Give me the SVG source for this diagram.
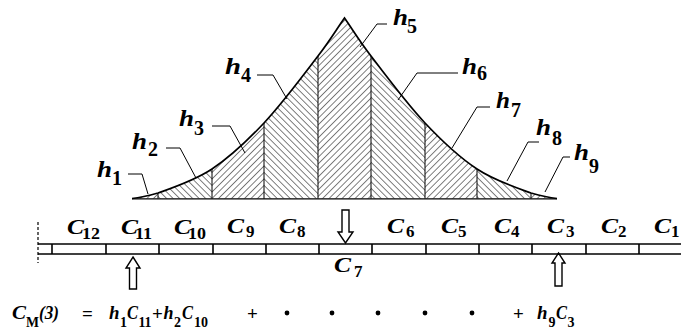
<svg xmlns="http://www.w3.org/2000/svg" width="681" height="332" viewBox="0 0 681 332">
<style>
.h{font-family:"Liberation Serif",serif;font-weight:bold;font-style:italic;font-size:23px;fill:#000}
.hs{font-family:"Liberation Serif",serif;font-weight:bold;font-size:20px;fill:#000}
.c{font-family:"Liberation Serif",serif;font-weight:bold;font-style:italic;font-size:20px;fill:#000}
.cs{font-family:"Liberation Serif",serif;font-weight:bold;font-size:17px;fill:#000}
.f{font-family:"Liberation Serif",serif;font-weight:bold;font-style:italic;font-size:19px;fill:#000}
.fs{font-family:"Liberation Serif",serif;font-weight:bold;font-size:14px;fill:#000}
.op{font-family:"Liberation Serif",serif;font-weight:bold;font-size:19px;fill:#000}
.ld{fill:none;stroke:#000;stroke-width:1}
.dv{stroke:#000;stroke-width:1}
.sl{stroke:#000;stroke-width:1.6}
.ar{fill:#fff;stroke:#000;stroke-width:1.4}
</style>
<defs>
<pattern id="pA" patternUnits="userSpaceOnUse" width="4.6" height="10" patternTransform="rotate(45)">
<line x1="0" y1="0" x2="0" y2="10" stroke="#000" stroke-width="1"/>
</pattern>
<pattern id="pB" patternUnits="userSpaceOnUse" width="4.6" height="10" patternTransform="rotate(-45)">
<line x1="0" y1="0" x2="0" y2="10" stroke="#000" stroke-width="1"/>
</pattern>
<clipPath id="area">
<path d="M132,198.5 C140,197.5 147,196 158,193 C171.3,188.2 194.3,180.7 212,169 C229.7,157.3 246.3,141.8 264,123 C281.7,104.2 304.7,73.5 318,56 C331.3,38.5 336,30 344.5,18 C353,30 357.7,38.5 371,56 C384.3,73.5 407.3,104.2 425,123 C442.7,141.8 459.3,157.3 477,169 C494.7,180.7 517.7,188.2 531,193 C542,196 549,197.5 557,198.5 Z"/>
</clipPath>
</defs>

<g id="weight-curve">
<g clip-path="url(#area)">
<rect x="132" y="0" width="26" height="199" fill="url(#pA)"/>
<rect x="158" y="0" width="54" height="199" fill="url(#pB)"/>
<rect x="212" y="0" width="52" height="199" fill="url(#pA)"/>
<rect x="264" y="0" width="54" height="199" fill="url(#pB)"/>
<rect x="318" y="0" width="53" height="199" fill="url(#pA)"/>
<rect x="371" y="0" width="54" height="199" fill="url(#pB)"/>
<rect x="425" y="0" width="52" height="199" fill="url(#pA)"/>
<rect x="477" y="0" width="54" height="199" fill="url(#pB)"/>
<rect x="531" y="0" width="26" height="199" fill="url(#pA)"/>
<g class="dv">
<line x1="158" y1="0" x2="158" y2="199"/><line x1="212" y1="0" x2="212" y2="199"/>
<line x1="264" y1="0" x2="264" y2="199"/><line x1="318" y1="0" x2="318" y2="199"/>
<line x1="371" y1="0" x2="371" y2="199"/><line x1="425" y1="0" x2="425" y2="199"/>
<line x1="477" y1="0" x2="477" y2="199"/><line x1="531" y1="0" x2="531" y2="199"/>
</g>
</g>
<path d="M132,198.5 C140,197.5 147,196 158,193 C171.3,188.2 194.3,180.7 212,169 C229.7,157.3 246.3,141.8 264,123 C281.7,104.2 304.7,73.5 318,56 C331.3,38.5 336,30 344.5,18 C353,30 357.7,38.5 371,56 C384.3,73.5 407.3,104.2 425,123 C442.7,141.8 459.3,157.3 477,169 C494.7,180.7 517.7,188.2 531,193 C542,196 549,197.5 557,198.5" fill="none" stroke="#000" stroke-width="1.7"/>
<line x1="132" y1="198.8" x2="557" y2="198.8" stroke="#000" stroke-width="1.2"/>
</g>

<g id="h-labels">
<g id="h1"><text class="h" x="97" y="177" textLength="15" lengthAdjust="spacingAndGlyphs">h</text><text class="hs" x="112" y="185">1</text></g>
<g id="h2"><text class="h" x="132" y="149" textLength="15" lengthAdjust="spacingAndGlyphs">h</text><text class="hs" x="148" y="156">2</text></g>
<g id="h3"><text class="h" x="179" y="126" textLength="15" lengthAdjust="spacingAndGlyphs">h</text><text class="hs" x="194" y="135">3</text></g>
<g id="h4"><text class="h" x="225" y="74" textLength="16" lengthAdjust="spacingAndGlyphs">h</text><text class="hs" x="241" y="82">4</text></g>
<g id="h5"><text class="h" x="393" y="25" textLength="15" lengthAdjust="spacingAndGlyphs">h</text><text class="hs" x="407" y="33">5</text></g>
<g id="h6"><text class="h" x="462" y="74" textLength="15" lengthAdjust="spacingAndGlyphs">h</text><text class="hs" x="477" y="80">6</text></g>
<g id="h7"><text class="h" x="496" y="108" textLength="14" lengthAdjust="spacingAndGlyphs">h</text><text class="hs" x="511" y="117">7</text></g>
<g id="h8"><text class="h" x="536" y="135" textLength="15" lengthAdjust="spacingAndGlyphs">h</text><text class="hs" x="552" y="145">8</text></g>
<g id="h9"><text class="h" x="574" y="160" textLength="15" lengthAdjust="spacingAndGlyphs">h</text><text class="hs" x="589" y="173">9</text></g>
</g>

<g id="connectors">
<polyline class="ld" points="128,174 142,174 148,194"/>
<polyline class="ld" points="166,148 180,148 196,178"/>
<polyline class="ld" points="212,126 230,126 245,153"/>
<polyline class="ld" points="257,75 273,75 287,99"/>
<polyline class="ld" points="387,24 377,24 360,47"/>
<polyline class="ld" points="458,73 417,73 398,100"/>
<polyline class="ld" points="490,107 477,107 452,148"/>
<polyline class="ld" points="539,142 528,142 507,181"/>
<polyline class="ld" points="570,157 563,157 545,192"/>
</g>

<g id="strip">
<line x1="38" y1="222" x2="38" y2="263" stroke="#000" stroke-width="1.2" stroke-dasharray="3 2"/>
<line class="sl" x1="38" y1="244" x2="681" y2="244"/>
<line class="sl" x1="38" y1="254" x2="681" y2="254"/>
<g class="sl">
<line x1="52" y1="244" x2="52" y2="254"/><line x1="106" y1="244" x2="106" y2="254"/>
<line x1="159" y1="244" x2="159" y2="254"/><line x1="213" y1="244" x2="213" y2="254"/>
<line x1="266" y1="244" x2="266" y2="254"/><line x1="319" y1="244" x2="319" y2="254"/>
<line x1="372" y1="244" x2="372" y2="254"/><line x1="426" y1="244" x2="426" y2="254"/>
<line x1="479" y1="244" x2="479" y2="254"/><line x1="532" y1="244" x2="532" y2="254"/>
<line x1="586" y1="244" x2="586" y2="254"/><line x1="639" y1="244" x2="639" y2="254"/>
</g>
</g>

<g id="c-labels">
<g id="C12"><text class="c" x="67" y="234" textLength="17" lengthAdjust="spacingAndGlyphs">C</text><text class="cs" x="82" y="239" textLength="18" lengthAdjust="spacingAndGlyphs">12</text></g>
<g id="C11"><text class="c" x="121" y="234" textLength="17" lengthAdjust="spacingAndGlyphs">C</text><text class="cs" x="135" y="239" textLength="17" lengthAdjust="spacingAndGlyphs">11</text></g>
<g id="C10"><text class="c" x="174" y="234" textLength="17" lengthAdjust="spacingAndGlyphs">C</text><text class="cs" x="188" y="239" textLength="18" lengthAdjust="spacingAndGlyphs">10</text></g>
<g id="C9"><text class="c" x="227" y="233" textLength="17" lengthAdjust="spacingAndGlyphs">C</text><text class="cs" x="246" y="237">9</text></g>
<g id="C8"><text class="c" x="279" y="233" textLength="17" lengthAdjust="spacingAndGlyphs">C</text><text class="cs" x="297" y="237">8</text></g>
<g id="C7"><text class="c" x="334" y="272" textLength="17" lengthAdjust="spacingAndGlyphs">C</text><text class="cs" x="354" y="277">7</text></g>
<g id="C6"><text class="c" x="387" y="233" textLength="17" lengthAdjust="spacingAndGlyphs">C</text><text class="cs" x="406" y="237">6</text></g>
<g id="C5"><text class="c" x="441" y="233" textLength="17" lengthAdjust="spacingAndGlyphs">C</text><text class="cs" x="458" y="237">5</text></g>
<g id="C4"><text class="c" x="494" y="233" textLength="17" lengthAdjust="spacingAndGlyphs">C</text><text class="cs" x="511" y="237">4</text></g>
<g id="C3"><text class="c" x="547" y="233" textLength="17" lengthAdjust="spacingAndGlyphs">C</text><text class="cs" x="566" y="237">3</text></g>
<g id="C2"><text class="c" x="601" y="233" textLength="17" lengthAdjust="spacingAndGlyphs">C</text><text class="cs" x="618" y="237">2</text></g>
<g id="C1"><text class="c" x="654" y="233" textLength="17" lengthAdjust="spacingAndGlyphs">C</text><text class="cs" x="671" y="237">1</text></g>
</g>

<g id="arrows">
<path id="arrow-down-C7" class="ar" d="M342,210 H349 V232 H353 L345.5,243 L338,232 H342 Z"/>
<path id="arrow-up-C11" class="ar" d="M133,257 L140,268 H136.5 V289 H129.5 V268 H126 Z"/>
<path id="arrow-up-C3" class="ar" d="M558.5,253 L565,263 H562 V286 H555 V263 H552 Z"/>
</g>

<g id="formula">
<text class="f" x="12" y="319" textLength="14" lengthAdjust="spacingAndGlyphs">C</text>
<text class="fs" x="26" y="327" textLength="13" lengthAdjust="spacingAndGlyphs">M</text>
<text class="f" x="39" y="319" textLength="20" lengthAdjust="spacingAndGlyphs">(3)</text>
<text class="op" x="82" y="320">=</text>
<text class="f" x="109" y="319" textLength="10.5" lengthAdjust="spacingAndGlyphs">h</text>
<text class="fs" x="120" y="327">1</text>
<text class="f" x="127" y="319" textLength="11" lengthAdjust="spacingAndGlyphs">C</text>
<text class="fs" x="138.5" y="327" textLength="13" lengthAdjust="spacingAndGlyphs">11</text>
<text class="op" x="152" y="320">+</text>
<text class="f" x="163.5" y="319" textLength="10" lengthAdjust="spacingAndGlyphs">h</text>
<text class="fs" x="174" y="327">2</text>
<text class="f" x="182" y="319" textLength="11" lengthAdjust="spacingAndGlyphs">C</text>
<text class="fs" x="194" y="327" textLength="14" lengthAdjust="spacingAndGlyphs">10</text>
<text class="op" x="247" y="320">+</text>
<circle cx="287" cy="313" r="2.4"/>
<circle cx="332" cy="313" r="2.4"/>
<circle cx="378" cy="313" r="2.4"/>
<circle cx="425" cy="313" r="2.4"/>
<circle cx="472" cy="313" r="2.4"/>
<text class="op" x="513" y="320">+</text>
<text class="f" x="537" y="319" textLength="10.5" lengthAdjust="spacingAndGlyphs">h</text>
<text class="fs" x="548.5" y="327">9</text>
<text class="f" x="556" y="319" textLength="11" lengthAdjust="spacingAndGlyphs">C</text>
<text class="fs" x="567.5" y="327">3</text>
</g>
</svg>
